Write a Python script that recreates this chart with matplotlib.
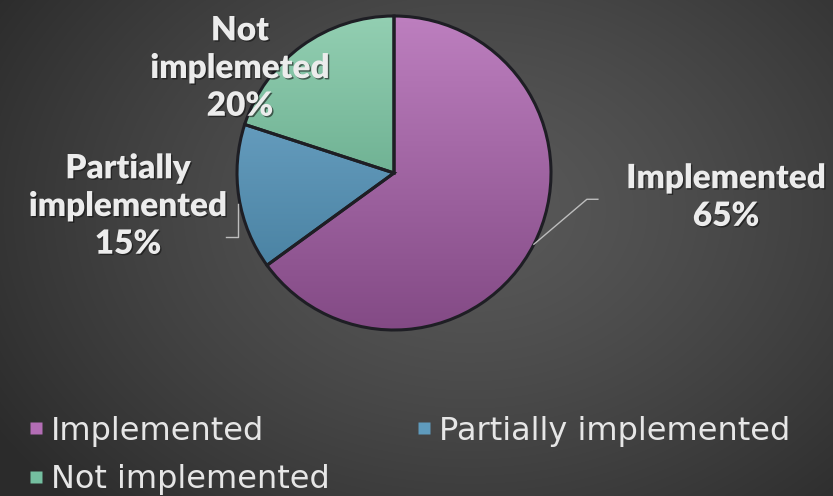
import numpy as np
import matplotlib.pyplot as plt
from matplotlib.lines import Line2D
from matplotlib.colors import LinearSegmentedColormap
import matplotlib.patheffects as pe

# data
labels = ['Implemented', 'Partially implemented', 'Not implemented']
values = [65, 15, 20]
slice_texts = ['Implemented\n65%', 'Partially\nimplemented\n15%', 'Not\nimplemeted\n20%']
top_colors = ['#bd7fbf', '#78aed0', '#93cfb2']
bottom_colors = ['#834a85', '#3f7898', '#4d9676']
legend_colors = ['#b36db5', '#5f9bbd', '#74bfa0']

W, H = 833, 496
fig = plt.figure(figsize=(W / 100, H / 100), dpi=100)
ax = fig.add_axes([0, 0, 1, 1])

# background radial gradient
yy, xx = np.mgrid[0:H, 0:W]
d = np.sqrt(((xx - 470) / 560.0) ** 2 + ((yy - 210) / 420.0) ** 2)
d = np.clip(d, 0, 1)
light, dark = 0.35, 0.17
bg = light - (light - dark) * d ** 1.3
ax.imshow(np.dstack([bg, bg, bg]), extent=[0, W, 0, H], origin='upper', zorder=0)

cx, cy, r = 394, 323, 157
wedges, _ = ax.pie(values, startangle=90, counterclock=False, center=(cx, cy), radius=r,
                   colors=top_colors, wedgeprops=dict(edgecolor='#1e1e24', linewidth=2.2))

# vertical gradient inside each slice
grad = np.linspace(0, 1, 256).reshape(-1, 1)
for w, c1, c2 in zip(wedges, top_colors, bottom_colors):
    cmap = LinearSegmentedColormap.from_list('g', [c1, c2])
    im = ax.imshow(grad, cmap=cmap, extent=[cx - r, cx + r, cy - r, cy + r],
                   origin='upper', aspect='auto', zorder=1.5)
    im.set_clip_path(w)
    w.set_facecolor('none')
    w.set_zorder(2)

txt_fx = [pe.withSimplePatchShadow(offset=(1, -1), shadow_rgbFace='#111111', alpha=0.6)]
font = dict(family='Lato', weight='heavy', color='#ececec', fontsize=24, ha='center',
            va='center', linespacing=1.22, path_effects=txt_fx)

# mid angles for leader lines
angles = []
start = 90
for v in values:
    sweep = v / sum(values) * 360
    angles.append(np.deg2rad(start - sweep / 2))
    start -= sweep

# Implemented label
a = angles[0]
p0 = (cx + r * np.cos(a), cy + r * np.sin(a))
ax.plot([p0[0], p0[0] + 53, p0[0] + 64], [p0[1], p0[1] + 45, p0[1] + 45],
        color='#bdbdbd', lw=1, zorder=3)
ax.text(726, H - 197, slice_texts[0], **font)

# Partially implemented label
a = angles[1]
p1 = (cx + r * np.cos(a), cy + r * np.sin(a))
ax.plot([p1[0] - 1, p1[0] - 1, p1[0] - 13], [p1[1] - 6, p1[1] - 39, p1[1] - 39],
        color='#bdbdbd', lw=1, zorder=3)
ax.text(128, H - 206, slice_texts[1], **font)

# Not implemented label
ax.text(240, H - 68, slice_texts[2], zorder=4, **font)

# legend
handles = [Line2D([0], [0], marker='s', color='none', markerfacecolor=legend_colors[i],
                  markeredgecolor='none', markersize=9) for i in [0, 2, 1]]
leg = ax.legend(handles, [labels[0], labels[2], labels[1]], ncol=2, loc='lower left',
                bbox_to_anchor=(0.012, -0.037), frameon=False,
                handlelength=0.45, handletextpad=0.22, columnspacing=2.75,
                labelspacing=0.55, borderaxespad=0.2,
                prop=dict(family='DejaVu Sans', size=23))
for t in leg.get_texts():
    t.set_color('#e6e6e6')

ax.set_xlim(0, W)
ax.set_ylim(0, H)
ax.set_aspect('auto')
ax.axis('off')

fig.savefig('out.png', dpi=100)
